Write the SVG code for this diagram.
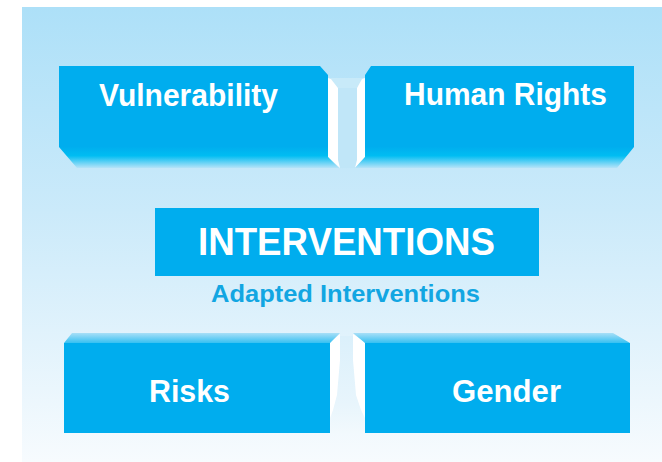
<svg xmlns="http://www.w3.org/2000/svg" width="662" height="462" viewBox="0 0 662 462">
  <defs>
    <linearGradient id="bg" x1="0" y1="0" x2="0" y2="1">
      <stop offset="0" stop-color="#ade0f8"/>
      <stop offset="0.45" stop-color="#cbeafa"/>
      <stop offset="1" stop-color="#f7fbfe"/>
    </linearGradient>
    <linearGradient id="topBox" x1="0" y1="66" x2="0" y2="168" gradientUnits="userSpaceOnUse">
      <stop offset="0" stop-color="#00adee"/>
      <stop offset="0.79" stop-color="#00adee"/>
      <stop offset="0.88" stop-color="#00bdf2"/>
      <stop offset="1" stop-color="#b6e3f8"/>
    </linearGradient>
    <linearGradient id="botBox" x1="0" y1="333" x2="0" y2="433" gradientUnits="userSpaceOnUse">
      <stop offset="0" stop-color="#a8dff7"/>
      <stop offset="0.095" stop-color="#3cc2f2"/>
      <stop offset="0.1" stop-color="#00adee"/>
      <stop offset="1" stop-color="#00adee"/>
    </linearGradient>
    <linearGradient id="botChan" x1="0" y1="336" x2="0" y2="433" gradientUnits="userSpaceOnUse">
      <stop offset="0" stop-color="#dbf0fb"/>
      <stop offset="0.7" stop-color="#e8f5fc"/>
      <stop offset="1" stop-color="#f2f9fd"/>
    </linearGradient>
    <style>
      .box { stroke: none; }
      .lbl { font-family: "Liberation Sans", Arial, sans-serif; font-weight: bold; fill: #ffffff; text-anchor: middle; }
      .side { fill: #ffffff; }
      .chan { fill: #c0e6f8; }
    </style>
  </defs>

  <rect x="22" y="7" width="640" height="455" fill="url(#bg)"/>

  <g id="connectors">
    <polygon class="chan" points="338,86 357,86 357,168 338,168"/>
    <polygon fill="#c8eaf9" points="330,78 365,78 357,88 338,88"/>
    <polygon class="side" points="328,78 331,79 338,88 338,160 340,168 328,157"/>
    <polygon class="side" points="365,78 362,79 357,88 357,160 355,168 365,157"/>
    <polygon fill="url(#botChan)" points="340,336 353,336 365,433 330,433"/>
    <polygon class="side" points="330,342 340,334 340,360 337,395 333,410 330,418"/>
    <polygon class="side" points="365,342 353,334 353,360 356,395 361,410 365,418"/>
  </g>

  <g id="vulnerability">
    <polygon class="box" fill="url(#topBox)" points="59,66 320,66 328,75 328,157 339,168 77,168 59,147"/>
    <text class="lbl" x="188.5" y="106" font-size="32" textLength="179" lengthAdjust="spacingAndGlyphs">Vulnerability</text>
  </g>

  <g id="human-rights">
    <polygon class="box" fill="url(#topBox)" points="371,66 634,66 634,147 617,168 355,168 365,157 365,75"/>
    <text class="lbl" x="505.5" y="105" font-size="32" textLength="203" lengthAdjust="spacingAndGlyphs">Human Rights</text>
  </g>

  <g id="interventions">
    <rect class="box" x="155" y="208" width="384" height="68" fill="#00adee"/>
    <text class="lbl" x="346.5" y="255" font-size="39" textLength="297" lengthAdjust="spacingAndGlyphs">INTERVENTIONS</text>
  </g>

  <g id="adapted-interventions">
    <text class="lbl" x="345.5" y="302" font-size="24" style="fill:#12a6e2" textLength="269" lengthAdjust="spacingAndGlyphs">Adapted Interventions</text>
  </g>

  <g id="risks">
    <polygon class="box" fill="url(#botBox)" points="72,333 340,333 330,343 330,433 64,433 64,343"/>
    <text class="lbl" x="189.5" y="402" font-size="31" textLength="81" lengthAdjust="spacingAndGlyphs">Risks</text>
  </g>

  <g id="gender">
    <polygon class="box" fill="url(#botBox)" points="353,333 613,333 630,343 630,433 365,433 365,343"/>
    <text class="lbl" x="506.5" y="402" font-size="31" textLength="109" lengthAdjust="spacingAndGlyphs">Gender</text>
  </g>
</svg>
